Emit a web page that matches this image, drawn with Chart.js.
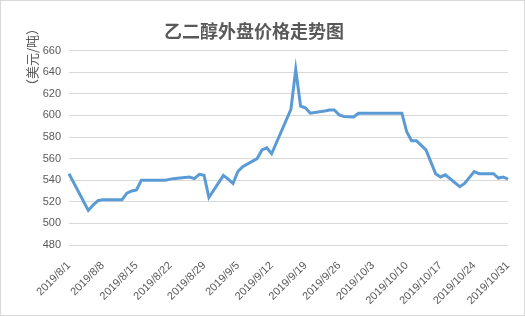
<!DOCTYPE html>
<html>
<head>
<meta charset="utf-8">
<script src="https://cdn.jsdelivr.net/npm/chart.js@4/dist/chart.umd.min.js"></script>
<style>
  html, body { margin: 0; padding: 0; background: #fff; }
  #wrap { width: 525px; height: 316px; }
</style>
</head>
<body>
<div id="wrap"><canvas id="price-chart"></canvas></div>
<script>
// 乙二醇外盘价格 (美元/吨), 交易日
const tradeDates = [
  "2019/8/1", "2019/8/5", "2019/8/6", "2019/8/7", "2019/8/8", "2019/8/9",
  "2019/8/12", "2019/8/13", "2019/8/14", "2019/8/15", "2019/8/16",
  "2019/8/19", "2019/8/20", "2019/8/21", "2019/8/22", "2019/8/23",
  "2019/8/26", "2019/8/27", "2019/8/28", "2019/8/29", "2019/8/30",
  "2019/9/2", "2019/9/3", "2019/9/4", "2019/9/5", "2019/9/6",
  "2019/9/9", "2019/9/10", "2019/9/11", "2019/9/12",
  "2019/9/16", "2019/9/17", "2019/9/18", "2019/9/19", "2019/9/20",
  "2019/9/23", "2019/9/24", "2019/9/25", "2019/9/26", "2019/9/27",
  "2019/9/29", "2019/9/30",
  "2019/10/8", "2019/10/9", "2019/10/10", "2019/10/11", "2019/10/12",
  "2019/10/14", "2019/10/15", "2019/10/16", "2019/10/17", "2019/10/18",
  "2019/10/21", "2019/10/22", "2019/10/24", "2019/10/25",
  "2019/10/28", "2019/10/29", "2019/10/30", "2019/10/31"
];
const prices = [
  546, 512, 517, 521, 522, 522,
  522, 528, 530, 531, 540,
  540, 540, 540, 541, 541.5,
  543, 541.5, 545.5, 544.5, 524,
  544.5, 541, 537, 548, 552.5,
  560, 568, 570, 564.5,
  605.5, 642.5, 608.5, 607, 602,
  604, 605, 605, 600.5, 599,
  598.5, 602,
  602, 602, 585, 576.5, 576.5,
  568, 557, 546, 543, 545,
  534, 537, 548, 546,
  546, 542, 543, 541
];
const firstDay = "2019/8/1";
const lastDay = "2019/10/31";
const yTicks = { min: 480, max: 660, step: 20 };

// date axis: one category per calendar day
const fmt = d => d.getFullYear() + "/" + (d.getMonth() + 1) + "/" + d.getDate();
const days = [];
for (let d = new Date(firstDay); d <= new Date(lastDay); d.setDate(d.getDate() + 1)) {
  days.push(fmt(d));
}
const series = days.map(day => {
  const i = tradeDates.indexOf(day);
  return i >= 0 ? prices[i] : null;
});

const textColor = "#595959";
const gridColor = "#d9d9d9";

const frame = {
  id: "frame",
  beforeDraw(chart) {
    const ctx = chart.ctx;
    ctx.save();
    ctx.fillStyle = "#fff";
    ctx.fillRect(0, 0, chart.width, chart.height);
    ctx.strokeStyle = gridColor;
    ctx.lineWidth = 1;
    ctx.strokeRect(0.5, 0.5, chart.width - 1, chart.height - 1);
    ctx.restore();
  },
  afterDraw(chart) {
    // y axis unit, rotated
    const ctx = chart.ctx;
    ctx.save();
    ctx.translate(32, 57);
    ctx.rotate(-Math.PI / 2);
    ctx.fillStyle = textColor;
    ctx.font = "13px 'Noto Sans CJK SC'";
    ctx.textAlign = "center";
    ctx.textBaseline = "middle";
    ctx.fillText("（美元/吨）", 0, 0);
    ctx.restore();
  }
};

new Chart(document.getElementById("price-chart"), {
  type: "line",
  data: {
    labels: days,
    datasets: [{
      label: "乙二醇外盘价格",
      data: series,
      borderColor: "#5b9bd5",
      borderWidth: 3,
      pointRadius: 0,
      tension: 0,
      spanGaps: true,
    }],
  },
  options: {
    responsive: true,
    maintainAspectRatio: false,
    animation: false,
    layout: { padding: { left: 0, right: 17, top: 0, bottom: 0 } },
    plugins: {
      legend: { display: false },
      tooltip: { enabled: false },
      title: {
        display: true,
        text: "乙二醇外盘价格走势图",
        color: textColor,
        font: { family: "'Noto Sans CJK SC'", size: 18, weight: "bold" },
        padding: { top: 20, bottom: 9 },
      },
    },
    scales: {
      x: {
        grid: { display: false },
        border: { display: false },
        afterFit: s => { s.height = 71; },
        ticks: {
          autoSkip: false,
          maxRotation: 45,
          minRotation: 45,
          padding: 6,
          color: textColor,
          font: { family: "'Liberation Sans'", size: 11 },
          callback: (v, i) => (i % 7 === 0 ? days[i] : null),
        },
      },
      y: {
        min: yTicks.min,
        max: yTicks.max,
        afterFit: s => { s.width = 69; },
        grid: { color: gridColor, drawTicks: false },
        border: { display: false },
        ticks: {
          stepSize: yTicks.step,
          padding: 8,
          color: textColor,
          font: { family: "'Liberation Sans'", size: 11 },
        },
      },
    },
  },
  plugins: [frame],
});
</script>
</body>
</html>
